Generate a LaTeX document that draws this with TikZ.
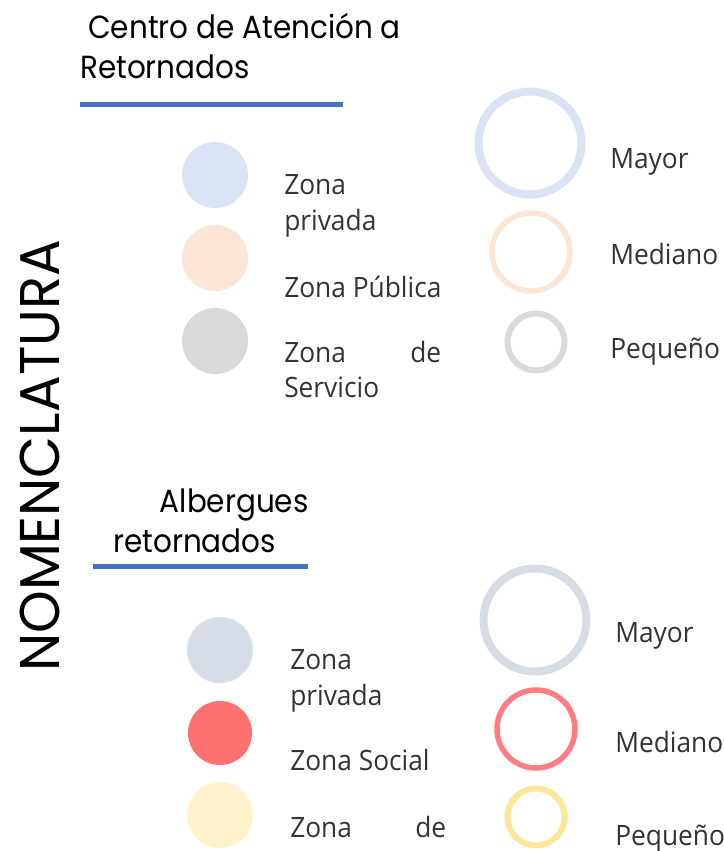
\documentclass[tikz,border=0pt]{standalone}
\usepackage{fontspec}
\setmainfont{Open Sans}[FakeStretch=0.94]
\newfontfamily\headfont{Poppins}[FakeStretch=0.92]
\newfontfamily\nomfont{Poppins}[FakeStretch=0.97]
\definecolor{ruleblue}{HTML}{4472C4}
\definecolor{privA}{HTML}{DAE3F3}
\definecolor{pubA}{HTML}{FBE5D6}
\definecolor{servA}{HTML}{D9D9D9}
\definecolor{privB}{HTML}{D6DCE5}
\definecolor{socB}{HTML}{FF7171}
\definecolor{servB}{HTML}{FFF2CC}
\definecolor{medB}{HTML}{FF7C80}
\definecolor{pequB}{HTML}{FFE699}
\begin{document}
\begin{tikzpicture}[x=0.75pt,y=-0.75pt,
    head/.style={font=\headfont\fontsize{24}{30}\selectfont,anchor=base west,align=left,inner sep=0pt},
    lbl/.style={font=\fontsize{21}{26.5}\selectfont,text=black!80,anchor=base west,align=left,inner sep=0pt},
    rulebar/.style={line width=3.75pt,ruleblue}]
    \useasboundingbox (0,0) rectangle (724,851);
    \node[rotate=90,font=\nomfont\fontsize{42}{42}\selectfont,inner sep=0pt] (nomen) at (40,456) {NOMENCLATURA};
    % Centro de Atencion
    \node[head] (tcat) at (80,78) {\hspace*{6pt}Centro de Atención a\\Retornados};
    \draw[rulebar] (80,104) -- (343,104);
    \fill[privA] (215,175) circle (33);
    \fill[pubA] (215,258) circle (33);
    \fill[servA] (215,341) circle (33);
    \node[lbl] (lpriv) at (284,230) {Zona\\privada};
    \node[lbl] (lpub) at (284,297) {Zona Pública};
    \node[lbl,text width=117.75pt] (lserv) at (284,362) {Zona\hfill de\\Servicio};
    \draw[privA,line width=6pt] (530,143) circle (51.5);
    \draw[pubA,line width=4.1pt] (531,252) circle (39);
    \draw[servA,line width=4.5pt] (536,342) circle (28.5);
    \node[lbl] (lmay) at (610,168) {Mayor};
    \node[lbl] (lmed) at (610,264) {Mediano};
    \node[lbl] (lpeq) at (610,358) {Pequeño};
    % Albergues
    \node[head] (talb) at (113,552) {\hspace*{35pt}Albergues\\retornados};
    \draw[rulebar] (93,566) -- (308,566);
    \filldraw[fill=privB,draw=privA,line width=1pt] (220,650) circle (32.5);
    \fill[socB] (220,733) circle (32);
    \fill[servB] (220,815) circle (33);
    \node[lbl] (lpriv2) at (290,705) {Zona\\privada};
    \node[lbl] (lsoc) at (290,770) {Zona Social};
    \node[lbl,text width=117pt] (lserv2) at (290,837) {Zona\hfill de};
    \draw[privB,line width=6pt] (535,620) circle (51.5);
    \draw[medB,line width=4.1pt] (536,729) circle (39);
    \draw[pequB,line width=4.5pt] (536,817) circle (28.5);
    \node[lbl] (lmay2) at (615,642) {Mayor};
    \node[lbl] (lmed2) at (615,752) {Mediano};
    \node[lbl] (lpeq2) at (615,845) {Pequeño};
\end{tikzpicture}
\end{document}
